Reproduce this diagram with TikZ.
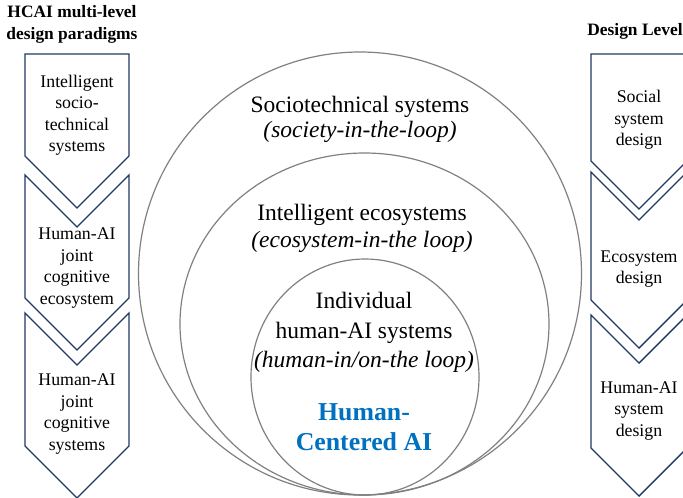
\documentclass[tikz,border=0pt]{standalone}
\usepackage{fontspec}
\setmainfont{Liberation Serif}
\usetikzlibrary{positioning}
\definecolor{chevblue}{RGB}{31,56,100}
\definecolor{hcaiblue}{RGB}{0,112,192}

\begin{document}
\begin{tikzpicture}[x=1pt, y=-1pt,
    chev/.style={draw=chevblue, line width=1.4pt, line join=miter},
    ring/.style={draw=gray, line width=1.2pt},
    lbl/.style={align=center, inner sep=0pt, font=\fontsize{17.8}{21.5}\selectfont},
    head/.style={align=center, inner sep=0pt, font=\fontsize{17.4}{22}\selectfont\bfseries},
    ctext/.style={align=center, inner sep=0pt, font=\fontsize{23.5}{25.5}\selectfont}]
    \useasboundingbox (0,0) rectangle (683,498);
    % chevrons: centre x / half width / top / side end / notch depth
    \foreach \cx/\hw/\ya/\yb/\dn in {77/52/54/156/0, 77/52/175/298/52, 77/52/313/446/52,
                                     639/48/54/161/0, 639/48/172/300/48, 639/48/315/448/48} {
            \draw[chev] ({\cx-\hw},\ya) -- (\cx,{\ya+\dn}) -- ({\cx+\hw},\ya)
                -- ({\cx+\hw},\yb) -- (\cx,{\yb+\hw}) -- ({\cx-\hw},\yb) -- cycle;
        };
    % nested levels
    \draw[ring] (360,273.5) ellipse (221.5 and 221.5);
    \draw[ring] (364.5,324) ellipse (184.5 and 171);
    \draw[ring] (365,377) ellipse (114 and 118);

    \node[head] (paradigms) at (72,24) {HCAI multi-level\\design paradigms};
    \node[head] (levels) at (635,31) {Design Level};

    \node[lbl] (para1) at (77,115) {Intelligent\\socio-\\technical\\systems};
    \node[lbl] (para2) at (77,268) {Human-AI\\joint\\cognitive\\ecosystem};
    \node[lbl] (para3) at (77,414) {Human-AI\\joint\\cognitive\\systems};

    \node[lbl] (lvl1) at (639,120) {Social\\system\\design};
    \node[lbl] (lvl2) at (639,269) {Ecosystem\\design};
    \node[lbl] (lvl3) at (639,411) {Human-AI\\system\\design};

    \node[ctext] (socio) at (360,119.5) {Sociotechnical systems\\\textit{(society-in-the-loop)}};
    \node[ctext, font=\fontsize{23.5}{26.5}\selectfont] (eco) at (362,228.5) {Intelligent ecosystems\\\textit{(ecosystem-in-the loop)}};
    \node[ctext, font=\fontsize{23.5}{29.5}\selectfont] (indiv) at (364,332.5) {Individual\\human-AI systems\\\textit{(human-in/on-the loop)}};
    \node[align=center, inner sep=0pt, text=hcaiblue, font=\fontsize{25.8}{30}\selectfont\bfseries] (hcai) at (364,427) {Human-\\Centered AI};
\end{tikzpicture}
\end{document}
